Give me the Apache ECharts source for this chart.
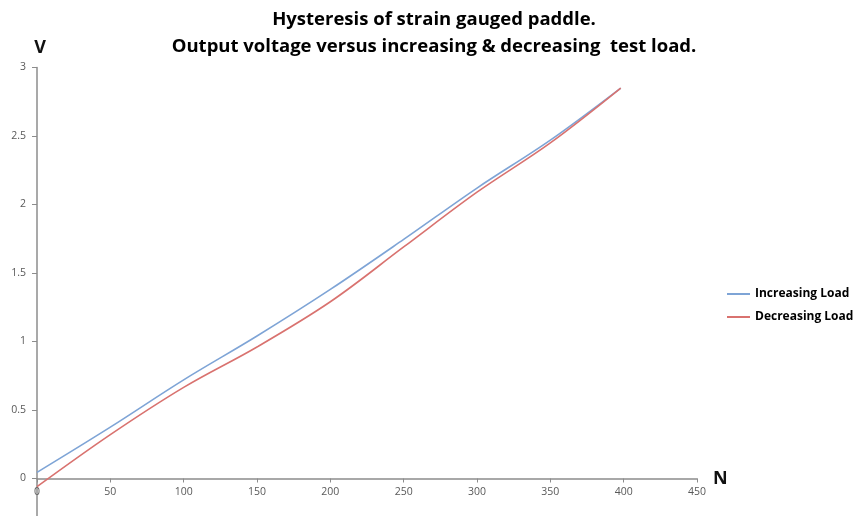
<!DOCTYPE html>
<html>
<head>
<meta charset="utf-8">
<script src="https://cdn.jsdelivr.net/npm/echarts@6/dist/echarts.min.js"></script>
<style>
  html, body { margin: 0; padding: 0; background: #ffffff; }
  #chart { width: 860px; height: 516px; }
</style>
</head>
<body>
<div id="chart"></div>
<script>
// Test load in newtons and measured output voltage
const increasingLoad = [
  [0, 0.045], [50, 0.375], [100, 0.72], [150, 1.04], [200, 1.38],
  [250, 1.745], [300, 2.12], [350, 2.47], [398, 2.85]
];
const decreasingLoad = [
  [0, -0.06], [50, 0.32], [100, 0.665], [150, 0.96], [200, 1.29],
  [250, 1.69], [300, 2.09], [350, 2.45], [398, 2.85]
];
const titleLines = [
  'Hysteresis of strain gauged paddle.',
  'Output voltage versus increasing & decreasing  test load.'
];

const axisColor = '#8c8c8c';
const labelFont = { fontFamily: 'Open Sans', fontSize: 10.5, color: '#595959' };
const chart = echarts.init(document.getElementById('chart'), null, { renderer: 'canvas' });

chart.setOption({
  backgroundColor: '#ffffff',
  animation: false,
  title: {
    text: titleLines.join('\n'),
    left: 434,
    textAlign: 'center',
    top: 6,
    padding: 0,
    textStyle: { fontFamily: 'Open Sans', fontWeight: 'bold', fontSize: 18.5, lineHeight: 27, color: '#000000' }
  },
  legend: {
    orient: 'vertical',
    left: 727,
    top: 288,
    padding: 0,
    itemWidth: 23,
    itemHeight: 2,
    itemGap: 11,
    icon: 'rect',
    textStyle: { fontFamily: 'Open Sans', fontWeight: 'bold', fontSize: 12, color: '#000000' },
    data: ['Increasing Load', 'Decreasing Load']
  },
  grid: { left: 37, right: 163, top: 67.5, bottom: 37.5, containLabel: false },
  xAxis: {
    type: 'value',
    min: 0, max: 450, interval: 50,
    name: 'N',
    nameLocation: 'end',
    nameGap: 16,
    nameTextStyle: { fontFamily: 'Open Sans', fontWeight: 'bold', fontSize: 18, color: '#111111', verticalAlign: 'middle' },
    axisLine: { lineStyle: { color: axisColor, width: 1.5 } },
    axisTick: { show: true, length: 4, lineStyle: { color: axisColor } },
    axisLabel: Object.assign({ margin: 8 }, labelFont),
    splitLine: { show: false }
  },
  yAxis: {
    type: 'value',
    min: 0, max: 3, interval: 0.5,
    name: 'V',
    nameLocation: 'end',
    nameGap: 11,
    nameTextStyle: { fontFamily: 'Open Sans', fontWeight: 'bold', fontSize: 18, color: '#111111', align: 'center', padding: [0, 0, 0, 6] },
    axisLine: { show: true, lineStyle: { color: axisColor, width: 1.5 } },
    axisTick: { show: true, length: 5, lineStyle: { color: axisColor } },
    axisLabel: Object.assign({ margin: 11 }, labelFont),
    splitLine: { show: false }
  },
  series: [
    {
      name: 'Increasing Load',
      type: 'line',
      data: increasingLoad,
      smooth: 0.35,
      clip: false,
      showSymbol: false,
      lineStyle: { color: '#7ea4d6', width: 1.6 },
      itemStyle: { color: '#7ea4d6' }
    },
    {
      name: 'Decreasing Load',
      type: 'line',
      data: decreasingLoad,
      smooth: 0.35,
      clip: false,
      showSymbol: false,
      lineStyle: { color: '#d9726f', width: 1.6 },
      itemStyle: { color: '#d9726f' }
    }
  ]
});

// The vertical axis continues below the origin to the bottom edge
const origin = chart.convertToPixel({ gridIndex: 0 }, [0, 0]);
chart.setOption({
  graphic: [{
    type: 'line',
    z: 0,
    shape: { x1: origin[0], y1: origin[1], x2: origin[0], y2: chart.getHeight() },
    style: { stroke: axisColor, lineWidth: 1.5 }
  }]
});
</script>
</body>
</html>
